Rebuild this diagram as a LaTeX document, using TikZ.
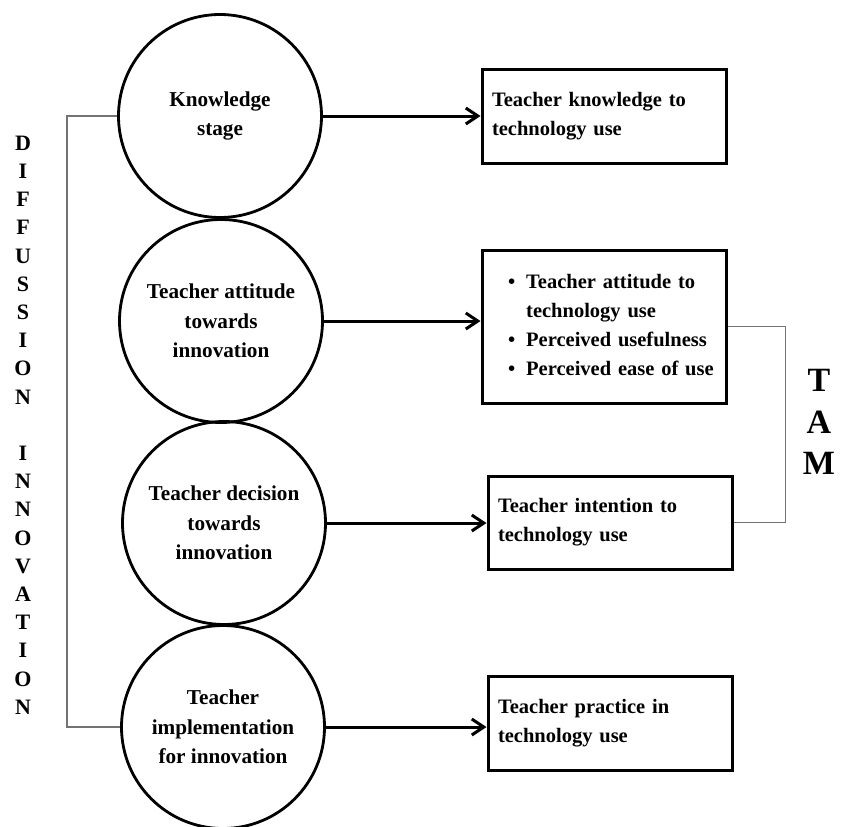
\documentclass[tikz,border=0pt]{standalone}
\usepackage{fontspec}
\setmainfont{Liberation Serif}
\usetikzlibrary{arrows.meta}

\begin{document}
\begin{tikzpicture}[x=1pt, y=-1pt, >={Straight Barb[length=12pt, width=16pt]},
    stage/.style={circle, draw, line width=2.8pt, minimum size=203pt, inner sep=0pt, align=center, font=\fontsize{21.2}{29.3}\selectfont\bfseries},
    outbox/.style={draw, line width=3pt, text width=224pt, inner xsep=10pt, inner ysep=0pt, align=left, font=\fontsize{20.5}{29}\selectfont\bfseries},
    flow/.style={->, line width=3pt},
    link/.style={draw=black!55, line width=1.4pt}]
    \useasboundingbox (0,0) rectangle (841,827);

    % Stages of the diffusion of innovation
    \node[stage] (know) at (220,116) {Knowledge\\stage};
    \node[stage] (att) at (221,321) {Teacher attitude\\towards\\innovation};
    \node[stage] (dec) at (224,523) {Teacher decision\\towards\\innovation};
    \node[stage] (impl) at (223,727) {Teacher\\implementation\\for innovation};

    % Outcome boxes
    \node[outbox, minimum height=94pt] (knowb) at (604,116) {Teacher knowledge to\\technology use};
    \node[outbox, minimum height=153pt] (attb) at (604,326.5) {\begin{tabular}{@{\hspace{16pt}}l@{\hspace{11pt}}l@{}}
        \textbullet & Teacher attitude to\\
                    & technology use\\
        \textbullet & Perceived usefulness\\
        \textbullet & Perceived ease of use
    \end{tabular}};
    \node[outbox, minimum height=93pt] (intb) at (610,522.5) {Teacher intention to\\technology use};
    \node[outbox, minimum height=94pt] (pracb) at (610,723) {Teacher practice in\\technology use};

    % Side labels
    \node[align=center, font=\fontsize{22}{28.2}\selectfont\bfseries] (diff) at (23,425)
        {D\\I\\F\\F\\U\\S\\S\\I\\O\\N\\[28.2pt]I\\N\\N\\O\\V\\A\\T\\I\\O\\N};
    \node[align=center, font=\fontsize{34}{41.5}\selectfont\bfseries] (tam) at (819,422) {T\\A\\M};

    % Arrows
    \draw[flow] (know.east) -- (know.east -| knowb.west);
    \draw[flow] (att.east) -- (att.east -| attb.west);
    \draw[flow] (dec.east) -- (dec.east -| intb.west);
    \draw[flow] (impl.east) -- (impl.east -| pracb.west);

    % Brackets
    \draw[link] (know.west) -- ++(-50,0) |- (impl.west);
    \draw[link] (attb.east) -- ++(58,0) |- (intb.east);
\end{tikzpicture}
\end{document}
